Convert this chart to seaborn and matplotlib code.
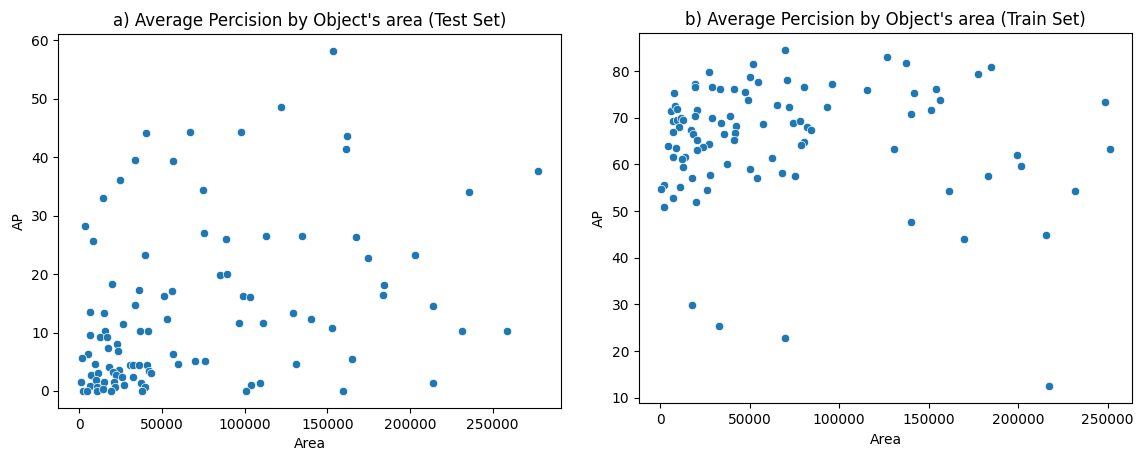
import numpy as np
import pandas as pd
import seaborn as sns
import matplotlib
matplotlib.use("Agg")
import matplotlib.pyplot as plt

# Test set: object area vs AP
test_area = [153700, 121950, 40400, 67200, 97500, 161700, 161100, 33700, 56900, 24600,
             74900, 277300, 235500, 14300, 3600, 8100, 75500, 88900, 113100, 134700,
             167600, 39800, 174900, 202900, 84800, 89100, 19600, 36200, 51500, 56300,
             98900, 103000, 184400, 183600, 214000, 33500, 6200, 15000, 53300, 129000,
             140400, 26500, 96700, 110900, 152800, 36800, 41800, 231200, 258900, 15300,
             6200, 12700, 16800, 22600, 23400, 17400, 5000, 1800, 56900, 59600,
             70100, 75900, 130900, 165200, 9300, 17800, 24200, 20600, 30700, 32600,
             36200, 41200, 42400, 43200, 7300, 11100, 22200, 25800, 32500, 10100,
             1200, 15000, 21000, 37400, 6200, 27100, 39600, 10500, 21800, 2400,
             4800, 10500, 14500, 19000, 38200, 103600, 109000, 101000, 159700, 214200]
test_ap = [58.2, 48.6, 44.2, 44.3, 44.3, 43.6, 41.5, 39.6, 39.3, 36.2,
           34.4, 37.6, 34.0, 33.1, 28.2, 25.6, 27.0, 26.1, 26.5, 26.5,
           26.3, 23.3, 22.7, 23.2, 19.9, 20.0, 18.3, 17.3, 16.2, 17.1,
           16.2, 16.1, 18.2, 16.4, 14.5, 14.7, 13.6, 13.3, 12.4, 13.3,
           12.4, 11.4, 11.7, 11.7, 10.7, 10.2, 10.2, 10.2, 10.2, 10.3,
           9.5, 9.2, 9.3, 8.0, 6.9, 7.3, 6.4, 5.7, 6.4, 4.6,
           5.2, 5.2, 4.6, 5.4, 4.6, 4.1, 3.6, 3.3, 4.5, 4.4,
           4.4, 4.4, 3.4, 3.0, 2.7, 3.1, 2.7, 2.4, 2.4, 1.9,
           1.5, 1.5, 1.5, 1.4, 0.8, 1.0, 0.6, 0.7, 0.6, 0.0,
           0.0, 0.0, 0.3, 0.0, 0.0, 1.0, 1.3, 0.0, 0.0, 1.4]

# Train set
train_area = [69800, 126600, 137500, 184800, 177600, 51900, 27000, 50300, 54700, 70700,
              96200, 80200, 19200, 19200, 29200, 33700, 41500, 47500, 49100, 115400,
              141600, 154300, 156200, 151500, 140000, 248300, 8000, 65300, 72000, 93300,
              5800, 8200, 9500, 20500, 19200, 7300, 9500, 11700, 12700, 10400,
              29200, 34200, 39100, 42600, 42000, 41500, 35900, 57700, 74300, 78200,
              82100, 84300, 80200, 78700, 6900, 17300, 18400, 20300, 27400, 24000,
              20800, 4300, 8800, 6900, 14100, 12300, 13000, 37600, 62200, 130700,
              199200, 201400, 251300, 50300, 54200, 68000, 75400, 28100, 17500, 183200,
              2400, 700, 10800, 26400, 161500, 231600, 7100, 19900, 2400, 140000,
              169800, 215400, 17500, 32600, 69800, 217200]
train_ap = [84.5, 83.1, 81.8, 80.9, 79.4, 81.5, 79.9, 78.7, 77.7, 78.1,
            77.3, 76.6, 77.3, 76.6, 76.6, 76.2, 76.2, 75.6, 73.8, 76.0,
            75.4, 76.2, 73.8, 71.6, 70.8, 73.4, 75.3, 72.7, 72.3, 72.3,
            71.5, 72.5, 71.9, 71.7, 70.3, 69.4, 69.6, 69.9, 69.6, 68.0,
            70.0, 68.9, 70.4, 68.2, 66.7, 65.2, 66.5, 68.7, 68.9, 69.4,
            68.0, 67.4, 64.8, 64.2, 67.0, 67.4, 66.6, 65.2, 64.4, 63.7,
            63.1, 64.0, 63.5, 61.6, 61.6, 61.2, 59.5, 60.1, 61.3, 63.3,
            62.0, 59.6, 63.3, 59.0, 57.0, 58.1, 57.5, 57.7, 57.1, 57.5,
            55.6, 54.7, 55.1, 54.5, 54.3, 54.2, 52.7, 51.9, 50.8, 47.6,
            44.0, 44.8, 29.8, 25.3, 22.7, 12.4]

test_df = pd.DataFrame({"Area": test_area, "AP": test_ap})
train_df = pd.DataFrame({"Area": train_area, "AP": train_ap})

fig = plt.figure(figsize=(11.46, 4.55), dpi=100)
ax1 = fig.add_axes([0.051, 0.1033, 0.4382, 0.822])
ax2 = fig.add_axes([0.5576, 0.1136, 0.4305, 0.8132])

sns.scatterplot(data=test_df, x="Area", y="AP", ax=ax1)
ax1.set_title("a) Average Percision by Object's area (Test Set)")

sns.scatterplot(data=train_df, x="Area", y="AP", ax=ax2)
ax2.set_title("b) Average Percision by Object's area (Train Set)")

fig.savefig("out.png", dpi=100)
